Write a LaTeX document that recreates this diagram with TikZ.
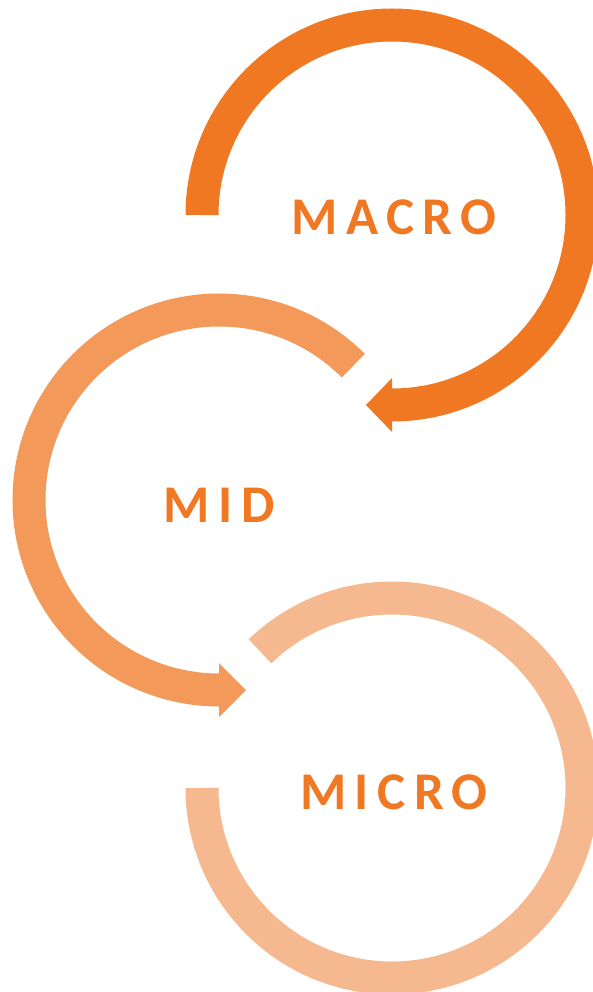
\documentclass[tikz,border=0pt]{standalone}
\usepackage{fontspec}
\setmainfont{Carlito}
\newfontfamily\ringfont[LetterSpace=16]{Carlito}
\definecolor{macrocol}{HTML}{F07823}
\definecolor{midcol}{HTML}{F3995A}
\definecolor{microcol}{HTML}{F6B98F}
\begin{document}
\begin{tikzpicture}[x=1pt,y=1pt,
    ring/.style={line width=33pt,line cap=butt},
    word/.style={text=macrocol,font=\ringfont\bfseries\fontsize{53}{53}\selectfont}]
\useasboundingbox (0,0) rectangle (592,-992);

% top ring, runs round clockwise and points back left
\draw[ring,macrocol] (202,-215) arc[start angle=180,end angle=-90,radius=190] coordinate (macroend);
\fill[macrocol] (macroend) ++(0,27) -- ++(-26,-27) -- ++(26,-27) -- cycle;
\node[word] (macro) at (394,-217) {MACRO};

% middle ring, runs the other way and points right
\draw[ring,midcol] (219,-500) ++(45:190) arc[start angle=45,end angle=270,radius=190] coordinate (midend);
\fill[midcol] (midend) ++(0,27) -- ++(27,-27) -- ++(-27,-27) -- cycle;
\node[word] (mid) at (219,-505) {MID};

% bottom ring, no head
\draw[ring,microcol] (392,-788) ++(134:190) arc[start angle=134,end angle=-180,radius=190];
\node[word] (micro) at (394,-792) {MICRO};

\end{tikzpicture}
\end{document}
